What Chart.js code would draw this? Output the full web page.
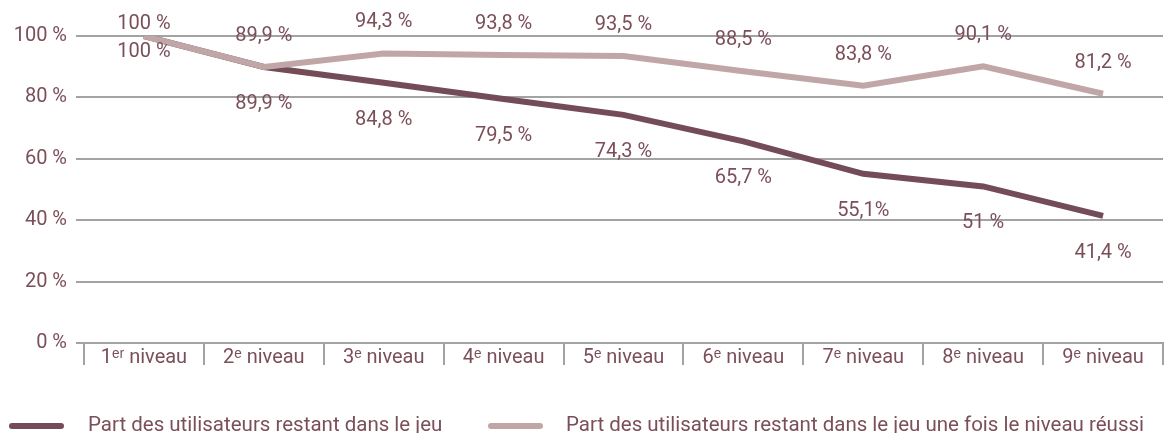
<!DOCTYPE html>
<html><head><meta charset="utf-8">
<script src="https://cdn.jsdelivr.net/npm/chart.js@4.4.0/dist/chart.umd.min.js"></script>
<style>
html,body{margin:0;padding:0;background:#fff;}
#wrap{position:relative;width:1165px;height:433px;}
#legend{position:absolute;left:0;top:412px;width:1165px;height:24px;font-family:Roboto,sans-serif;font-size:20.5px;color:#7b4f59;}
.sw{position:absolute;top:11px;width:55px;height:6px;border-radius:3px;}
.tx{position:absolute;top:0;line-height:24px;white-space:nowrap;}
</style></head><body>
<div id="wrap"><canvas id="c" width="1165" height="433"></canvas>
<div id="legend"></div></div>
<script>
const categories = ["1ᵉʳ niveau","2ᵉ niveau","3ᵉ niveau","4ᵉ niveau","5ᵉ niveau","6ᵉ niveau","7ᵉ niveau","8ᵉ niveau","9ᵉ niveau"];
const remaining = [100, 89.9, 84.8, 79.5, 74.3, 65.7, 55.1, 51, 41.4];
const remainingLabels = ["100 %","89,9 %","84,8 %","79,5 %","74,3 %","65,7 %","55,1%","51 %","41,4 %"];
const afterSuccess = [100, 89.9, 94.3, 93.8, 93.5, 88.5, 83.8, 90.1, 81.2];
const afterSuccessLabels = ["100 %","89,9 %","94,3 %","93,8 %","93,5 %","88,5 %","83,8 %","90,1 %","81,2 %"];
const yTicks = [0,20,40,60,80,100];
const seriesNames = ["Part des utilisateurs restant dans le jeu","Part des utilisateurs restant dans le jeu une fois le niveau réussi"];

const TXT = '#7b4f59';
const GRID = '#a3a3a3';
const FONT = {family:'Roboto, sans-serif', size:20};

const labelPlugin = {
  id:'vlabels',
  afterDatasetsDraw(chart){
    const ctx = chart.ctx;
    ctx.save();
    ctx.font = FONT.size+'px '+FONT.family;
    ctx.fillStyle = TXT;
    ctx.textAlign='center';
    ctx.textBaseline='middle';
    chart.data.datasets.forEach((ds,di)=>{
      const meta = chart.getDatasetMeta(di);
      meta.data.forEach((pt,i)=>{
        let y;
        if(ds.labelBelow){ y = i===0 ? pt.y+16 : pt.y+37; }
        else { y = i===0 ? pt.y-12 : pt.y-31; }
        ctx.fillText(ds.labelsText[i], pt.x, y);
      });
    });
    ctx.restore();
  }
};

const chart = new Chart(document.getElementById('c'),{
  type:'line',
  data:{
    labels:categories,
    datasets:[
      {label:seriesNames[0], data:remaining, labelsText:remainingLabels, labelBelow:true, borderColor:'#744c57', borderWidth:6, pointRadius:0, tension:0, order:2},
      {label:seriesNames[1], data:afterSuccess, labelsText:afterSuccessLabels, labelBelow:false, borderColor:'#c1a6a7', borderWidth:6, pointRadius:0, tension:0, order:1}
    ]
  },
  options:{
    responsive:false, animation:false,
    layout:{padding:{top:36,right:2,bottom:65,left:0}},
    plugins:{legend:{display:false},tooltip:{enabled:false}},
    scales:{
      x:{
        offset:true,
        grid:{offset:true, drawOnChartArea:false, color:GRID, lineWidth:2, tickLength:22},
        border:{display:true,color:GRID,width:2},
        ticks:{color:TXT, font:FONT, padding:-19, maxRotation:0, autoSkip:false},
        afterFit(s){ s.height=25; }
      },
      y:{
        min:0,max:100,
        afterBuildTicks(s){ s.ticks = yTicks.map(v=>({value:v})); },
        grid:{color:GRID, lineWidth:2, tickLength:8},
        border:{display:false},
        ticks:{color:TXT, font:FONT, padding:9, callback:v=>v+' %'},
        afterFit(s){ s.width=84; }
      }
    }
  },
  plugins:[labelPlugin]
});

// legend
const lg = document.getElementById('legend');
const items = [{name:seriesNames[0], color:'#744c57', x:9, tx:88},{name:seriesNames[1], color:'#c1a6a7', x:488, tx:566}];
items.forEach(it=>{
  const sw=document.createElement('div'); sw.className='sw'; sw.style.left=it.x+'px'; sw.style.background=it.color; lg.appendChild(sw);
  const t=document.createElement('div'); t.className='tx'; t.style.left=it.tx+'px'; t.textContent=it.name; lg.appendChild(t);
});
</script></body></html>
